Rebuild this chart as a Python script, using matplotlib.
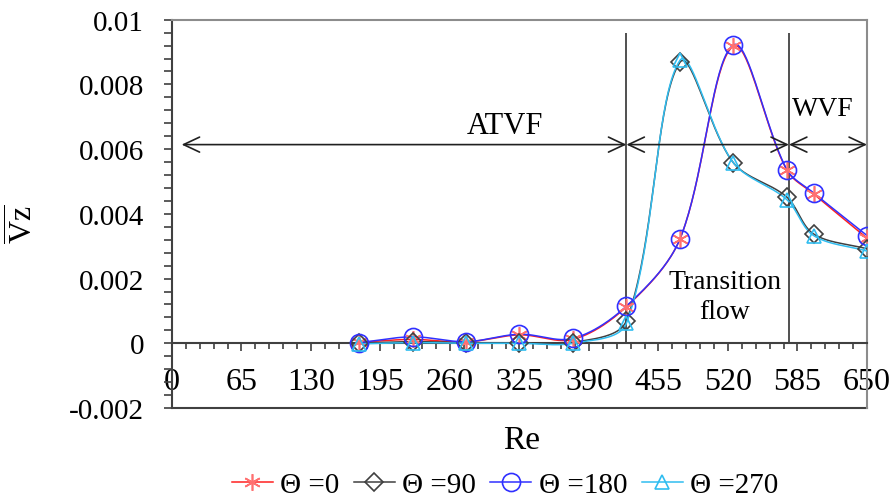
import numpy as np
import matplotlib.pyplot as plt
from matplotlib.ticker import MultipleLocator, FuncFormatter

plt.rcParams["font.family"] = ["Liberation Serif", "DejaVu Serif"]
plt.rcParams["mathtext.fontset"] = "custom"
plt.rcParams["mathtext.rm"] = "Liberation Serif"
plt.rcParams["mathtext.it"] = "Liberation Serif:italic"

# Reynolds numbers and mean axial velocity for each inclination angle
re = [175, 225, 275, 325, 375, 425, 475, 525, 575, 600, 650]
vz_0 = [0.00003, 0.00012, 0.00004, 0.00026, 0.00012, 0.00113, 0.00322, 0.00918, 0.00535, 0.00462, 0.00325]
vz_90 = [0.00000, 0.00005, 0.00002, 0.00002, 0.00002, 0.00070, 0.00868, 0.00558, 0.00452, 0.00338, 0.00292]
vz_180 = [0.00002, 0.00020, 0.00005, 0.00028, 0.00015, 0.00115, 0.00322, 0.00922, 0.00537, 0.00465, 0.00333]
vz_270 = [-0.00002, 0.00002, 0.00000, 0.00000, 0.00000, 0.00062, 0.00874, 0.00558, 0.00444, 0.00333, 0.00285]

labels = ["\u0398 =0", "\u0398 =90", "\u0398 =180", "\u0398 =270"]

# flow regime boundaries and their labels
boundaries = [425, 577]
arrow_y = 0.00614
regimes = [(9, 425), (425, 577), (577, 650)]


def smooth(ax, x, y, n=40):
    """Bezier smoothing through the points, done in display space."""
    pts = ax.transData.transform(np.column_stack([x, y]))
    ext = np.vstack([pts[0], pts, pts[-1]])
    t = np.linspace(0, 1, n)[:, None]
    out = []
    for i in range(len(pts) - 1):
        p0, p1, p2, p3 = ext[i], ext[i + 1], ext[i + 2], ext[i + 3]
        d01 = np.hypot(*(p1 - p0))
        d12 = np.hypot(*(p2 - p1))
        d23 = np.hypot(*(p3 - p2))
        f1 = d12 / (d01 + d12) / 3 if d01 + d12 > 0 else 0
        f2 = d12 / (d12 + d23) / 3 if d12 + d23 > 0 else 0
        c1 = p1 + (p2 - p0) * f1
        c2 = p2 - (p3 - p1) * f2
        seg = (1 - t) ** 3 * p1 + 3 * (1 - t) ** 2 * t * c1 + 3 * (1 - t) * t ** 2 * c2 + t ** 3 * p2
        out.append(seg if i == 0 else seg[1:])
    return ax.transData.inverted().transform(np.vstack(out))


fig = plt.figure(figsize=(8.95, 5.02), dpi=100)
ax = fig.add_axes([172 / 895, 1 - 409 / 502, (867 - 172) / 895, (409 - 20.7) / 502])
ax.set_xlim(0, 650)
ax.set_ylim(-0.002, 0.01)

series = [
    (vz_0, "#ff2020", "#ff7070", (6, 2, 0), 12),
    (vz_90, "#404040", "#404040", "D", 9),
    (vz_180, "#3030ff", "#3030ff", "o", 13),
    (vz_270, "#30bdf0", "#30bdf0", "^", 10),
]
handles = []
for (vals, lc, mc, mk, ms), lab in zip(series, labels):
    curve = smooth(ax, re, vals)
    ax.plot(curve[:, 0], curve[:, 1], color=lc, lw=1.1, zorder=3)
    ax.plot(re, vals, ls="none", marker=mk, ms=ms, mfc="none", mec=mc, mew=1.2, zorder=4)
    h, = ax.plot([], [], color=lc, lw=1.1, marker=mk, ms=ms, mfc="none", mec=mc, mew=1.2)
    handles.append(h)

# regime separators and double arrows
ax.vlines(boundaries, 0, 0.0096, color="#505050", lw=1.4, zorder=2)
for x0, x1 in regimes:
    ax.annotate(
        "", xy=(x1, arrow_y), xytext=(x0, arrow_y),
        arrowprops=dict(arrowstyle="<->,head_length=11.5,head_width=5.4",
                        mutation_scale=1, color="#202020", lw=1.2,
                        shrinkA=0, shrinkB=0),
    )
ax.text(311, 0.00672, "ATVF", ha="center", va="center", fontsize=22)
ax.text(609, 0.00725, "WVF", ha="center", va="center", fontsize=20)
ax.text(517, 0.00145, "Transition\nflow", ha="center", va="center", fontsize=20, linespacing=1.3)

# axes styling: x axis crosses at zero, box around the plot area
ax.spines["bottom"].set_position(("data", 0))
for s in ("left", "bottom"):
    ax.spines[s].set_color("#404040")
    ax.spines[s].set_linewidth(1.5)
for s in ("top", "right"):
    ax.spines[s].set_color("#8c8c8c")
    ax.spines[s].set_linewidth(1.5)
ax.axhline(-0.002, color="#404040", lw=1.5, clip_on=False)

ax.xaxis.set_major_locator(MultipleLocator(65))
ax.xaxis.set_minor_locator(MultipleLocator(13))
ax.yaxis.set_major_locator(MultipleLocator(0.002))
ax.yaxis.set_minor_locator(MultipleLocator(0.0004))
ax.yaxis.set_major_formatter(FuncFormatter(lambda v, p: "%g" % round(v, 6)))
ax.tick_params(axis="x", which="major", direction="out", length=6, width=1.2,
               color="#404040", labelsize=23, pad=11)
ax.tick_params(axis="x", which="minor", direction="out", length=4, width=1.2, color="#404040")
ax.tick_params(axis="y", which="both", direction="out", length=6, width=1.2,
               color="#404040", labelsize=21, pad=14)

fig.text(522 / 895, 1 - 441 / 502, "Re", ha="center", va="center", fontsize=24)
fig.text(23 / 895, 1 - 224 / 502, r"$\overline{\mathrm{Vz}}$", ha="center", va="center",
         fontsize=23, rotation=90)

fig.legend(handles=handles, labels=labels, loc="center", ncol=4, frameon=False,
           bbox_to_anchor=(505 / 895, 1 - 486 / 502), fontsize=21,
           handlelength=1.4, handletextpad=0.25, columnspacing=0.5)

fig.savefig("out.png", dpi=100, facecolor="white")
